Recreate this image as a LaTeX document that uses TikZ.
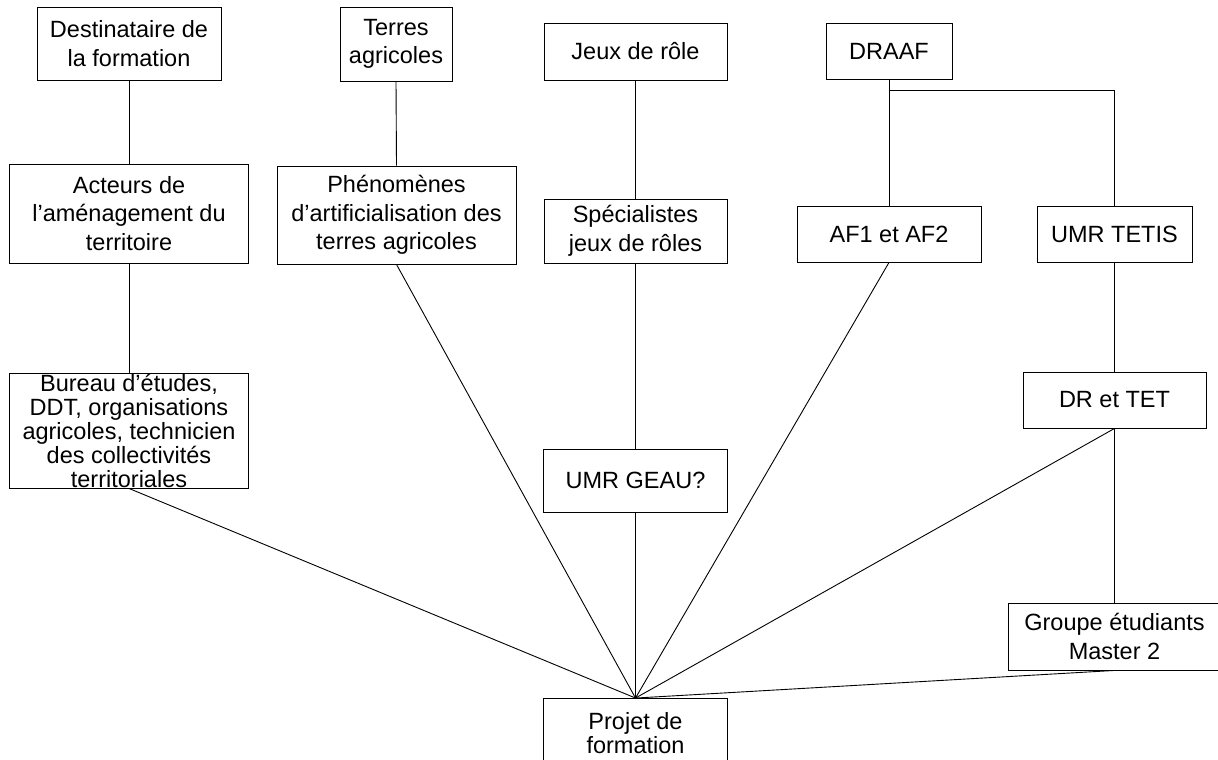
\documentclass[tikz,border=0pt]{standalone}
\usepackage{fontspec}
\setmainfont{Liberation Sans}
\begin{document}
\begin{tikzpicture}[x=1pt,y=-1pt,
  box/.style={draw, line width=0.9pt, align=center, inner sep=0pt,
    font=\fontsize{23.5}{28.5}\selectfont},
  tight/.style={font=\fontsize{23.5}{24}\selectfont},
  link/.style={line width=0.9pt}]
\useasboundingbox (0,0) rectangle (1218,760);
\node[box, minimum width=184, minimum height=73] (dest) at (129,43.5) {Destinataire de\\la formation};
\node[box, minimum width=112, minimum height=74] (terres) at (396,44) {Terres\\agricoles};
\node[box, minimum width=183, minimum height=57] (jeux) at (635.5,51.5) {Jeux de rôle};
\node[box, minimum width=126, minimum height=56] (draaf) at (889,51) {DRAAF};
\node[box, minimum width=239, minimum height=99] (acteurs) at (129,213.5) {Acteurs de\\l’aménagement du\\territoire};
\node[box, minimum width=239, minimum height=98] (phen) at (396.5,215) {Phénomènes\\d’artificialisation des\\terres agricoles};
\node[box, minimum width=183, minimum height=64] (spec) at (635.5,231) {Spécialistes\\jeux de rôles};
\node[box, minimum width=184, minimum height=56] (af) at (889,234) {AF1 et AF2};
\node[box, minimum width=155, minimum height=56] (tetis) at (1114.5,234) {UMR TETIS};
\node[box, tight, minimum width=239, minimum height=115] (bureau) at (129,430.5) {Bureau d’études,\\DDT, organisations\\agricoles, technicien\\des collectivités\\territoriales};
\node[box, minimum width=184, minimum height=63] (geau) at (635.5,480.5) {UMR GEAU?};
\node[box, minimum width=183, minimum height=56] (drtet) at (1114.5,400) {DR et TET};
\node[box, minimum width=212, minimum height=67] (groupe) at (1114.5,636.5) {Groupe étudiants\\Master 2};
\node[box, tight, minimum width=184, minimum height=70] (projet) at (635.5,733.5) {Projet de\\formation};

\draw[link] (dest.south) -- (acteurs.north);
\draw[link] (acteurs.south) -- (bureau.north);
\draw[link] (terres.south) -- (phen.north);
\draw[link] (jeux.south) -- (spec.north);
\draw[link] (spec.south) -- (geau.north);
\draw[link] (draaf.south) -- (af.north);
\coordinate (j) at ([yshift=-11pt]draaf.south);
\draw[link] (j) -| (tetis.north);
\draw[link] (tetis.south) -- (drtet.north);
\draw[link] (drtet.south) -- (groupe.north);
\foreach \n in {bureau,phen,geau,af,drtet,groupe}
  \draw[link] (\n.south) -- (projet.north);
\end{tikzpicture}
\end{document}
